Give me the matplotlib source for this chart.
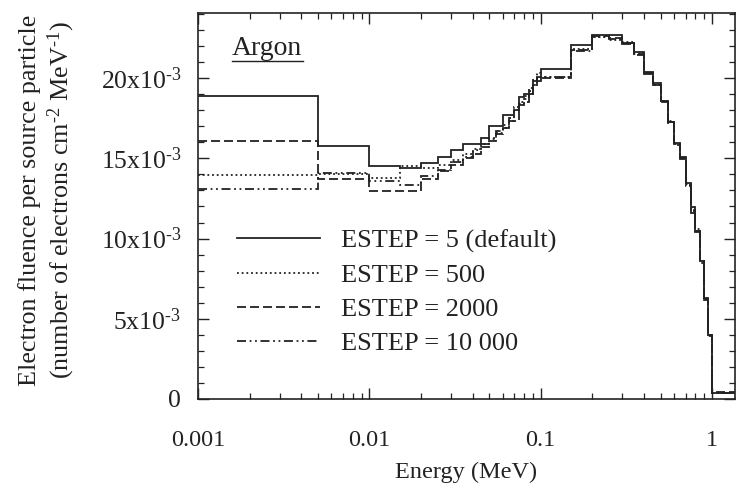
from matplotlib import pyplot as plt
from matplotlib.ticker import FixedLocator, FuncFormatter, MultipleLocator, NullFormatter
import numpy as np

# bin edges (MeV)
edges = [0.001, 0.005,
         0.01, 0.015, 0.02, 0.025, 0.03, 0.035, 0.04, 0.045, 0.05, 0.055,
         0.06, 0.065, 0.07, 0.075, 0.08, 0.085, 0.09, 0.095,
         0.1, 0.15, 0.2, 0.25, 0.3, 0.35, 0.4, 0.45, 0.5, 0.55, 0.6, 0.65,
         0.7, 0.75, 0.8, 0.85, 0.9, 0.95, 1.0, 1.5]

# fluence per bin, in units of 1e-3
estep_5 = [18.9, 15.75,
           14.5, 14.4, 14.7, 15.1, 15.55, 15.9, 15.9, 16.25, 17.0, 17.0,
           17.7, 17.7, 18.0, 18.8, 19.0, 19.0, 19.8, 19.8,
           20.56, 22.06, 22.7, 22.7, 22.17, 21.6, 20.4, 19.67, 18.6, 17.27, 15.96, 15.1,
           13.46, 11.96, 10.5, 8.6, 6.3, 4.0, 0.35]
estep_500 = [13.94, 14.05,
             13.8, 14.5, 14.4, 14.6, 14.9, 15.3, 15.6, 15.9, 16.2, 16.6,
             16.9, 17.3, 18.2, 18.5, 18.9, 19.4, 19.9, 20.3,
             20.1, 21.8, 22.55, 22.4, 22.25, 21.5, 20.3, 19.6, 18.55, 17.3, 15.9, 15.0,
             13.3, 11.8, 10.6, 8.5, 6.3, 4.0, 0.4]
estep_2000 = [16.06, 13.7,
              12.95, 12.95, 13.7, 14.2, 14.6, 15.0, 15.3, 15.7, 16.1, 16.5,
              16.9, 17.3, 17.3, 18.3, 18.5, 19.0, 19.5, 20.0,
              20.0, 21.75, 22.6, 22.5, 22.1, 21.45, 20.25, 19.55, 18.6, 17.2, 15.85, 14.95,
              13.35, 11.6, 10.4, 8.55, 6.2, 4.0, 0.45]
estep_10000 = [13.1, 14.08,
               13.6, 13.35, 13.9, 14.3, 14.8, 15.1, 15.5, 15.9, 16.3, 16.7,
               17.1, 17.5, 18.0, 18.4, 18.7, 19.2, 19.6, 20.1,
               20.05, 21.7, 22.55, 22.45, 22.2, 21.5, 20.3, 19.6, 18.5, 17.25, 15.9, 15.05,
               13.4, 11.7, 10.45, 8.6, 6.25, 3.95, 0.4]

labels = ["ESTEP = 5 (default)", "ESTEP = 500", "ESTEP = 2000", "ESTEP = 10 000"]
styles = ["-", (0, (1, 1.6)), (0, (5, 2.2)), (0, (5, 2, 1, 2, 1, 2))]

ink = "#222222"
plt.rcParams["font.family"] = ["Liberation Serif", "DejaVu Serif"]
plt.rcParams["mathtext.fontset"] = "custom"
plt.rcParams["mathtext.rm"] = "Liberation Serif"
plt.rcParams["mathtext.default"] = "regular"
plt.rcParams["text.color"] = ink
plt.rcParams["axes.labelcolor"] = ink
plt.rcParams["xtick.color"] = ink
plt.rcParams["ytick.color"] = ink

fig = plt.figure(figsize=(7.43, 4.97), dpi=100)
ax = fig.add_axes([0.2665, 0.1972, 0.7227, 0.7766])

series = [estep_5, estep_500, estep_2000, estep_10000]
for vals, lab, ls in zip(series, labels, styles):
    ax.stairs(np.array(vals) * 1e-3, edges, baseline=None, color=ink,
              linewidth=1.3, linestyle=ls, label=lab)

ax.set_xscale("log")
ax.set_xlim(0.001, 1.36)
ax.set_ylim(0, 24.06e-3)
ax.yaxis.set_major_locator(FixedLocator([0, 5e-3, 10e-3, 15e-3, 20e-3]))
ax.yaxis.set_minor_locator(MultipleLocator(1e-3))


def ylab(v, pos):
    n = int(round(v * 1e3))
    if n == 0:
        return "0"
    return r"%dx10$^{\text{-3}}$" % n


ax.yaxis.set_major_formatter(FuncFormatter(ylab))
ax.xaxis.set_major_formatter(FuncFormatter(lambda v, p: "%g" % v))
ax.xaxis.set_minor_formatter(NullFormatter())

ax.tick_params(which="both", direction="in", top=True, right=True, labelsize=17.5)
ax.tick_params(axis="y", labelsize=18.5)
ax.tick_params(which="major", length=8, width=1.0)
ax.tick_params(which="minor", length=4, width=0.9)
ax.tick_params(axis="x", pad=22)
ax.tick_params(axis="y", pad=12)
for s in ax.spines.values():
    s.set_linewidth(1.2)
    s.set_color(ink)

ax.set_xlabel("Energy (MeV)", fontsize=17.5, labelpad=8)
ax.set_ylabel("Electron fluence per source particle\n"
              r"(number of electrons cm$^{\text{-2}}$ MeV$^{\text{-1}}$)",
              fontsize=18.8, linespacing=1.2)
ax.yaxis.set_label_coords(-0.225, 0.515)

ax.text(0.063, 0.89, "Argon", transform=ax.transAxes, fontsize=20)
ax.plot([0.063, 0.196], [0.875, 0.875], transform=ax.transAxes, color=ink, linewidth=1.0)

ax.legend(loc="upper left", bbox_to_anchor=(0.072, 0.44), frameon=False,
          fontsize=19, handlelength=3.15, handletextpad=0.8, labelspacing=0.4,
          borderpad=0, borderaxespad=0)

fig.savefig("out.png", dpi=100)
